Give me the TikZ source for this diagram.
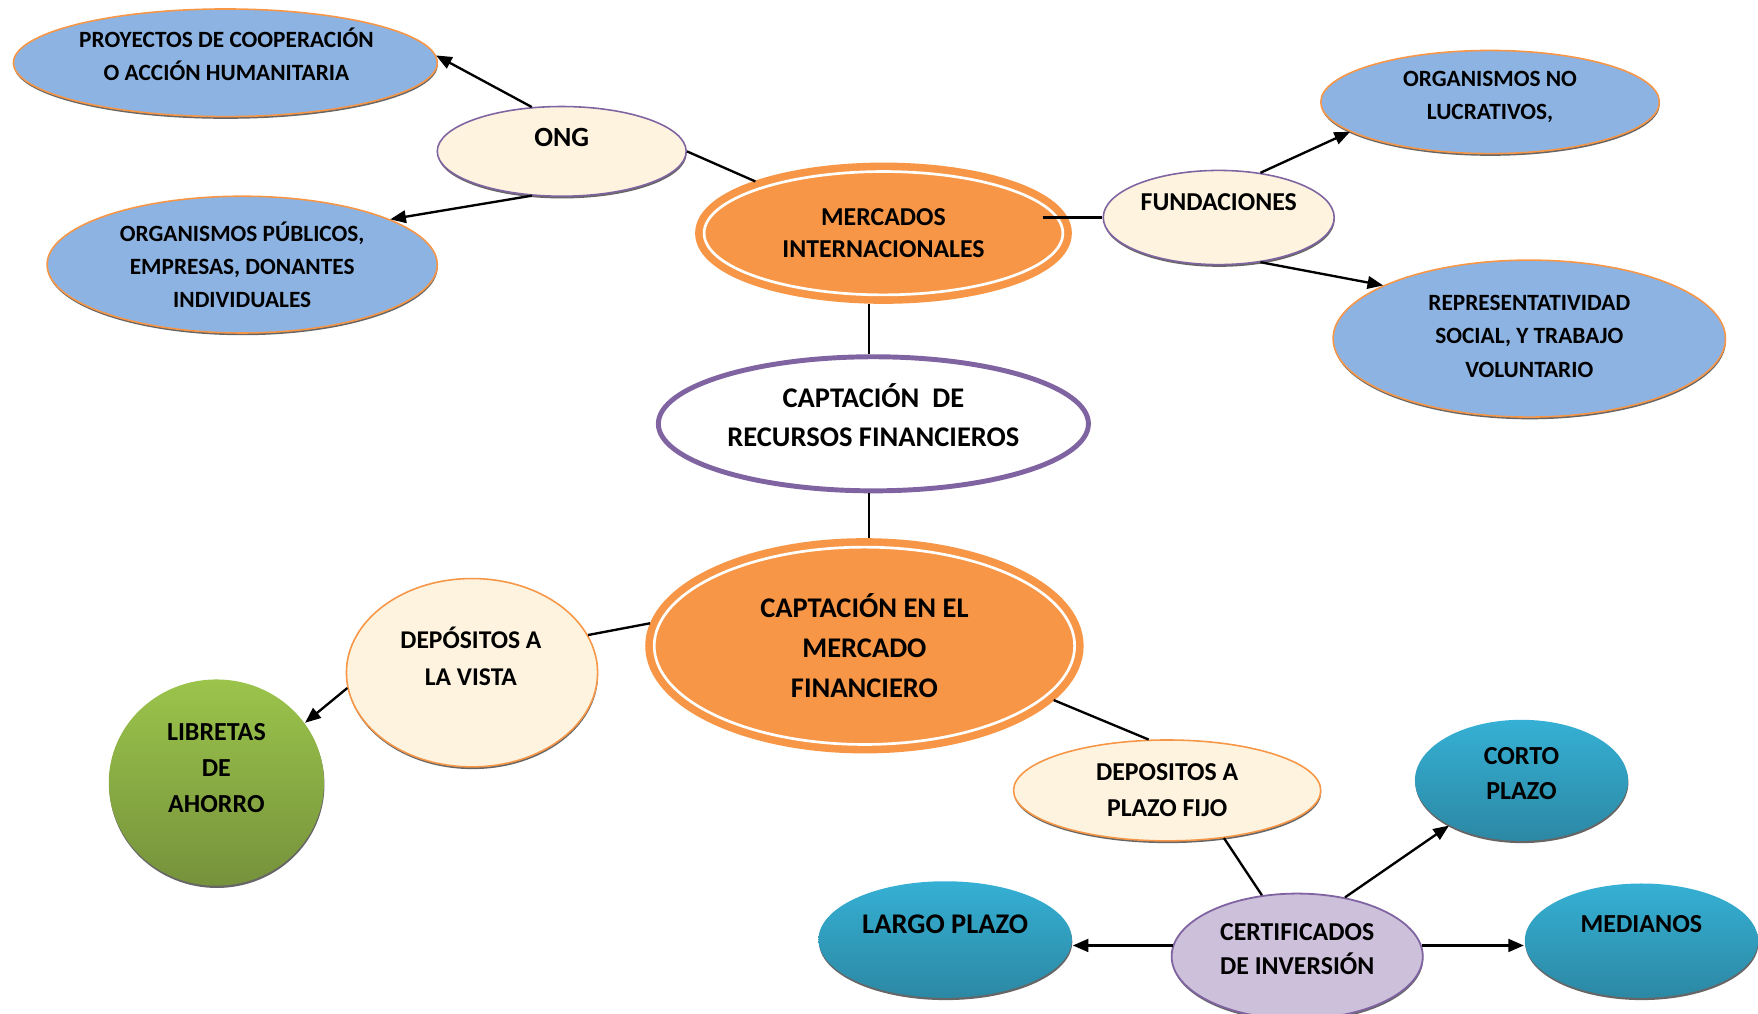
\documentclass[tikz,border=0pt]{standalone}
\usepackage{fontspec}
\setmainfont{Carlito}
\usetikzlibrary{shapes.geometric, shadows, arrows.meta, calc}

\definecolor{cblue}{HTML}{8DB3E2}
\definecolor{corange}{HTML}{F79646}
\definecolor{cpurple}{HTML}{8064A2}
\definecolor{ccream}{HTML}{FDF3DE}
\definecolor{clilac}{HTML}{CCC0DA}
\definecolor{cgreenT}{HTML}{9BC44B}
\definecolor{cgreenB}{HTML}{76923C}
\definecolor{ctealT}{HTML}{35B0D4}
\definecolor{ctealB}{HTML}{2C88A4}

\begin{document}
\begin{tikzpicture}[x=0.5pt, y=-0.5pt,
  shd/.style={general shadow={fill=black!60, shadow yshift=-1pt, shadow xshift=0.2pt}},
  ell/.style={ellipse, inner sep=0pt, line width=0.7pt},
  blueell/.style={ell, shd, fill=cblue, draw=corange},
  creamP/.style={ell, shd, fill=ccream, draw=cpurple},
  creamO/.style={ell, shd, fill=ccream, draw=corange},
  greenell/.style={ell, shd, top color=cgreenT, bottom color=cgreenB, draw=none},
  tealell/.style={ell, shd, top color=ctealT, bottom color=ctealB, draw=none},
  lilacell/.style={ell, shd, fill=clilac, draw=cpurple, line width=0.8pt},
  coreell/.style={ellipse, inner sep=0pt, fill=corange, draw=corange,
    line width=3.4pt, double=white, double distance=1.2pt, outer sep=4pt},
  rootell/.style={ellipse, inner sep=0pt, fill=white, draw=cpurple, line width=2.2pt},
  sz/.style={minimum width=#1pt},
  hz/.style={minimum height=#1pt},
  txt/.style={align=center, inner sep=0pt, text=black},
  f/.style 2 args={font=\fontsize{#1}{#2}\selectfont\bfseries},
  link/.style={line width=1.05pt, black},
  arr/.style={link, -{Triangle[length=7pt,width=5.6pt]}}
]
\useasboundingbox (0,0) rectangle (1568,904);

% ---- shapes ----
\node[blueell, sz=189, hz=48] (proy)   at (201,56)  {};
\node[blueell, sz=174, hz=61] (orgpub) at (216,236) {};
\node[creamP,  sz=111, hz=40] (ong)    at (501,135) {};
\node[coreell, sz=160, hz=55] (merc)   at (788,208) {};
\node[creamP,  sz=103, hz=42] (fund)   at (1087,194) {};
\node[blueell, sz=151, hz=46] (orgno)  at (1329,91) {};
\node[blueell, sz=175, hz=70] (repr)   at (1364,302) {};
\node[rootell, sz=191.8, hz=59.8] (captde) at (779,378) {};
\node[coreell, sz=187.5, hz=88] (capten) at (771,576) {};
\node[creamO,  sz=112, hz=84] (depv)   at (421,600) {};
\node[greenell, sz=96, hz=92] (lib)    at (193,698) {};
\node[creamO,  sz=137, hz=45] (depp)   at (1041,705) {};
\node[tealell, sz=95, hz=54]  (corto)  at (1357,696) {};
\node[tealell, sz=113, hz=52] (largo)  at (843,838) {};
\node[lilacell, sz=112, hz=56] (cert)  at (1157,853) {};
\node[tealell, sz=104, hz=51] (med)    at (1464,839) {};

% ---- labels ----
\node[txt, f={10.4}{14.6}] (proy-t)   at (202,48.5) {PROYECTOS DE COOPERACIÓN\\O ACCIÓN HUMANITARIA};
\node[txt, f={10.4}{14.8}] (orgpub-t) at (216,236)  {ORGANISMOS PÚBLICOS,\\EMPRESAS, DONANTES\\INDIVIDUALES};
\node[txt, f={12.4}{15}]   (ong-t)    at (501,123)  {ONG};
\node[txt, f={11.5}{14}]   (merc-t)   at (788,208)  {MERCADOS\\INTERNACIONALES};
\node[txt, f={11.5}{14}]   (fund-t)   at (1087,180) {FUNDACIONES};
\node[txt, f={10.4}{14.6}] (orgno-t)  at (1329,86.5) {ORGANISMOS NO\\LUCRATIVOS,};
\node[txt, f={10.4}{14.8}] (repr-t)   at (1364,300) {REPRESENTATIVIDAD\\SOCIAL, Y TRABAJO\\VOLUNTARIO};
\node[txt, f={12.7}{17.6}] (captde-t) at (779,370.5) {CAPTACIÓN\ \ DE\\RECURSOS FINANCIEROS};
\node[txt, f={12.7}{17.8}] (capten-t) at (771,576)  {CAPTACIÓN EN EL\\MERCADO\\FINANCIERO};
\node[txt, f={11.4}{16.5}] (depv-t)   at (420,585.5) {DEPÓSITOS A\\LA VISTA};
\node[txt, f={11.6}{16.2}] (lib-t)    at (193,685)  {LIBRETAS\\DE\\AHORRO};
\node[txt, f={11.5}{16}]   (depp-t)   at (1041,705) {DEPOSITOS A\\PLAZO FIJO};
\node[txt, f={11.6}{16}]   (corto-t)  at (1357,690) {CORTO\\PLAZO};
\node[txt, f={12.7}{15}]   (largo-t)  at (843,824)  {LARGO PLAZO};
\node[txt, f={11.5}{15.5}] (cert-t)   at (1157,846.5) {CERTIFICADOS\\DE INVERSIÓN};
\node[txt, f={11.6}{15}]   (med-t)    at (1464,824) {MEDIANOS};

% ---- connectors ----
\draw[arr]  (ong.124) -- (proy.2);
\draw[arr]  (ong.236.6) -- (orgpub.17);
\draw[link] (ong.east) -- (merc.158.6);
\coordinate (mfj) at ($(merc.center)+(142,-14)$);
\draw[link] (mfj) -- (fund.west);
\draw[arr]  (fund.47.9) -- (orgno.192.2);
\draw[arr]  (fund.313.5) -- (repr.160.9);
\coordinate (vtop) at ($(captde.north)+(-4,0)$);
\coordinate (vbot) at ($(captde.south)+(-4,0)$);
\draw[link] (vtop) -- (vtop |- merc.south);
\draw[link] (vbot) -- (vbot |- capten.north);
\draw[link] (capten.174.1) -- (depv.18.6);
\draw[arr]  (depv.187.2) -- (lib.34.5);
\draw[link] (capten.344.4) -- (depp.110);
\draw[link] (depp.320.3) -- (cert.120.3);
\draw[arr]  (cert.51) -- (corto.212.5);
\draw[arr, line width=1.4pt] (cert.175) -- (cert.175 -| largo.east);
\draw[arr, line width=1.4pt] (cert.5) -- (cert.5 -| med.west);
\end{tikzpicture}
\end{document}
